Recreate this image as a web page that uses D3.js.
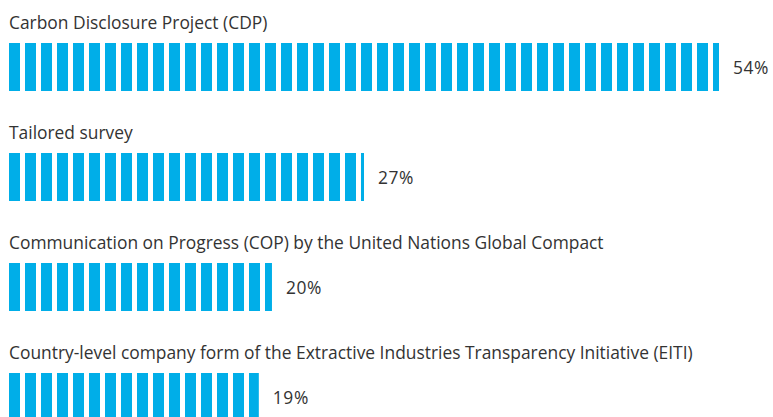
<!DOCTYPE html>
<html>
<head>
<meta charset="utf-8">
<script src="https://cdn.jsdelivr.net/npm/d3@7"></script>
<style>
  body { margin: 0; background: #fff; }
  text { font-family: "Open Sans", sans-serif; fill: #333; }
</style>
</head>
<body>
<div id="chart"></div>
<script>
var labels = [
    "Carbon Disclosure Project (CDP)",
    "Tailored survey",
    "Communication on Progress (COP) by the United Nations Global Compact",
    "Country-level company form of the Extractive Industries Transparency Initiative (EITI)"
];
var values = [54, 27, 20, 19];

var width = 773, height = 417;
var svg = d3.select("#chart").append("svg")
    .attr("width", width)
    .attr("height", height);

var x = d3.scaleLinear()
    .domain([0, 54])
    .range([9, 719]);

// one row per item: label on top, striped bar below
var y = d3.scaleBand()
    .domain(d3.range(labels.length))
    .range([0, 440])
    .paddingInner(0);

var barTop = 43, barHeight = 48;

//stripes drawn as a pattern anchored at the bar origin
var pattern = svg.append("defs").append("pattern")
    .attr("id", "stripes")
    .attr("patternUnits", "userSpaceOnUse")
    .attr("x", x(0))
    .attr("y", 0)
    .attr("width", 16)
    .attr("height", height);
pattern.append("rect")
    .attr("x", 0)
    .attr("y", 0)
    .attr("width", 11)
    .attr("height", height)
    .attr("fill", "#00aee8");

var rows = svg.selectAll("g.row")
    .data(values)
    .enter()
    .append("g")
    .attr("class", "row")
    .attr("transform", function(d, i) { return "translate(0," + y(i) + ")"; });

rows.append("text")
    .attr("x", x(0))
    .attr("y", 29)
    .style("font-size", "17.4px")
    .text(function(d, i) { return labels[i]; });

rows.append("rect")
    .attr("x", x(0))
    .attr("y", barTop)
    .attr("width", function(d) { return x(d) - x(0); })
    .attr("height", barHeight)
    .attr("fill", "url(#stripes)");

rows.append("text")
    .attr("x", function(d) { return x(d) + 14; })
    .attr("y", barTop + 31)
    .style("font-size", "17.4px")
    .style("letter-spacing", "0.6px")
    .text(function(d) { return d + "%"; });
</script>
</body>
</html>
